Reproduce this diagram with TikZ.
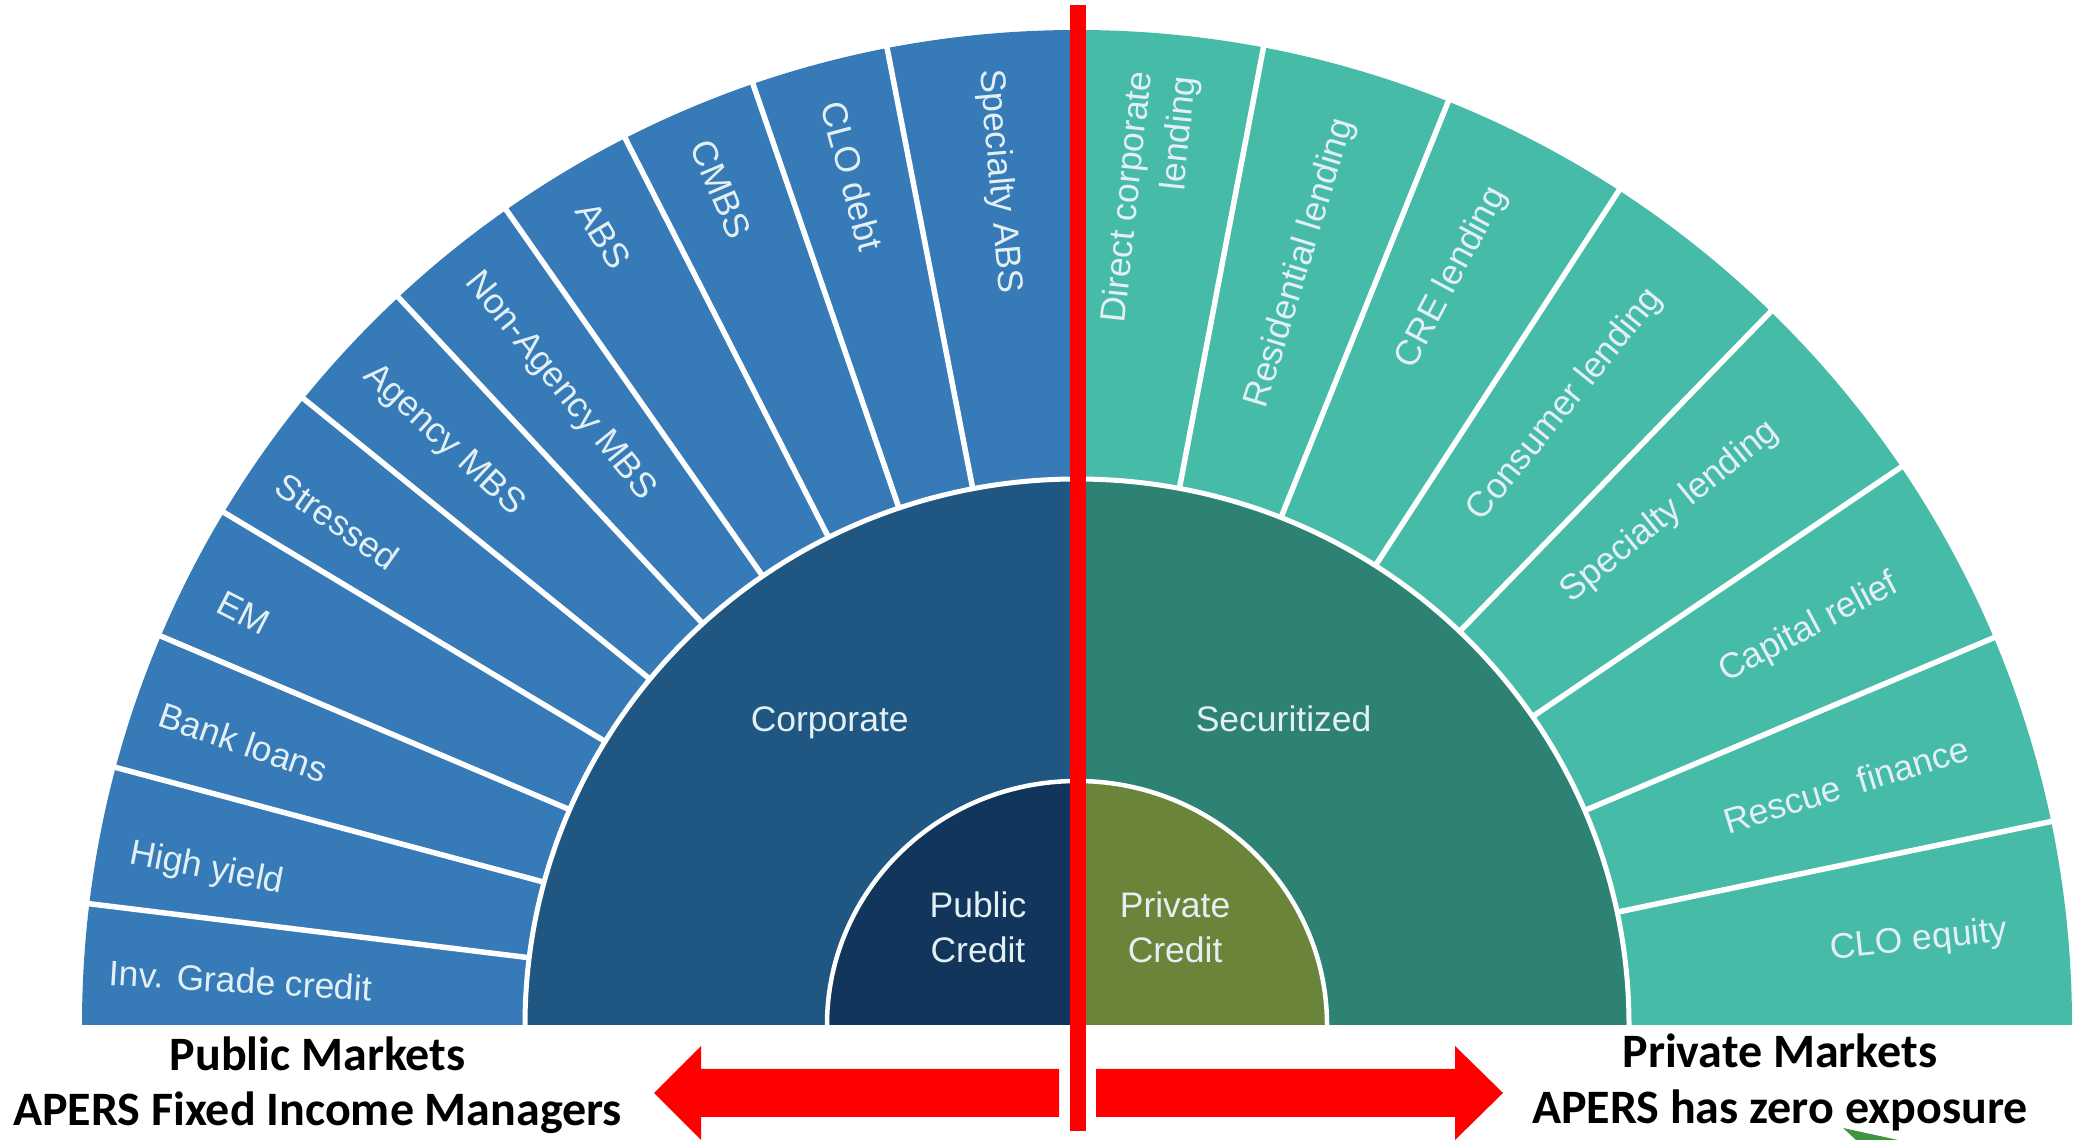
\documentclass[tikz,border=0pt]{standalone}
\usepackage{fontspec}
\setmainfont{Liberation Sans}
\newfontfamily\carl{Carlito}
\definecolor{pubA}{HTML}{377AB8}
\definecolor{pubB}{HTML}{1F5782}
\definecolor{pubC}{HTML}{12355B}
\definecolor{priA}{HTML}{45BBA8}
\definecolor{priB}{HTML}{2E8273}
\definecolor{priC}{HTML}{6A853A}
\definecolor{lab}{HTML}{E2F0F4}
\tikzset{
  seg/.style={text=lab,font=\fontsize{35.5}{45}\selectfont,inner sep=0pt},
  heading/.style={text=black,font=\carl\bfseries\fontsize{48}{58}\selectfont,inner sep=0pt},
  divider/.style={draw=white,line width=5.5pt},
  ringline/.style={draw=white,line width=5pt},
  redline/.style={fill=red},
}
\begin{document}
\begin{tikzpicture}[x=1pt,y=1pt]
\useasboundingbox (0,0) rectangle (2075,1140);
\fill[white] (0,0) rectangle (2075,1140);
\begin{scope}[shift={(1077,115)}]
  \fill[pubA] (0,0) -- (180:995) arc (180:90:995) -- cycle;
  \fill[priA] (0,0) -- (0:995) arc (0:90:995) -- cycle;
  \foreach \a in {173,165,157,149,141,133,125,117,109,101}
    \draw[divider] (\a:540) -- (\a:1002);
  \foreach \a in {11.8,22.9,34.1,45.8,57,68.1,79.2}
    \draw[divider] (\a:540) -- (\a:1002);
  \fill[pubB] (-552,0) arc (180:90:552 and 546) -- (0,0) -- cycle;
  \fill[priB] (552,0) arc (0:90:552 and 546) -- (0,0) -- cycle;
  \draw[ringline] (-552,0) arc (180:0:552 and 546);
  \fill[pubC] (-250,0) arc (180:90:250 and 244) -- (0,0) -- cycle;
  \fill[priC] (250,0) arc (0:90:250 and 244) -- (0,0) -- cycle;
  \draw[ringline,line width=4.5pt] (-250,0) arc (180:0:250 and 244);
\end{scope}
\begin{scope}[shift={(0,1140)},x=1.3233pt,y=-1.3233pt]
  \node[seg,rotate=-3.5] (s1) at (182,741) {Inv. Grade credit};
  \node[seg,rotate=-11] (s2) at (156,657) {High yield};
  \node[seg,rotate=-19] (s3) at (184,561) {Bank loans};
  \node[seg,rotate=-27] (s4) at (184,463) {EM};
  \node[seg,rotate=-35] (s5) at (255,394) {Stressed};
  \node[seg,rotate=-43] (s6) at (335,333) {Agency MBS};
  \node[seg,rotate=-51] (s7) at (423,292) {Non-Agency MBS};
  \node[seg,rotate=-59] (s8) at (456,178) {ABS};
  \node[seg,rotate=-67] (s9) at (545,143) {CMBS};
  \node[seg,rotate=-75] (s10) at (644,133) {CLO debt};
  \node[seg,rotate=-85] (s11) at (755,137) {Specialty ABS};
  \node[seg,rotate=6] (r1) at (1450,711) {CLO equity};
  \node[seg,rotate=17] (r2) at (1395,593) {Rescue~~finance};
  \node[seg,rotate=28] (r3) at (1367,475) {Capital relief};
  \node[seg,rotate=39] (r4) at (1262,387) {Specialty lending};
  \node[seg,rotate=51] (r5) at (1183,306) {Consumer lending};
  \node[seg,rotate=62] (r6) at (1097,210) {CRE lending};
  \node[seg,rotate=73] (r7) at (983,199) {Residential lending};
  \node[seg,rotate=84,align=right] (r8) at (870,151) {Direct corporate\\lending};
  \node[seg] (m1) at (627,546) {Corporate};
  \node[seg] (m2) at (970,543) {Securitized};
  \node[seg,align=center] (c1) at (739,701) {Public\\Credit};
  \node[seg,align=center] (c2) at (888,701) {Private\\Credit};
  \node[heading] (h1) at (240,796) {Public Markets};
  \node[heading] (h2) at (240,841) {APERS Fixed Income Managers};
  \node[heading] (h3) at (1345,794) {Private Markets};
  \node[heading] (h4) at (1345,839) {APERS has zero exposure};
\end{scope}
\fill[redline] (1070,9) rectangle (1086,1135);
\fill[redline] (1059,23) -- (701,23) -- (701,0) -- (654,47) -- (701,94) -- (701,71) -- (1059,71) -- cycle;
\fill[redline] (1096,23) -- (1455,23) -- (1455,0) -- (1503,47) -- (1455,94) -- (1455,71) -- (1096,71) -- cycle;
\fill[green!45!black!75!white] (1843,12) -- (1898,0) -- (1856,0) -- cycle;
\end{tikzpicture}
\end{document}
